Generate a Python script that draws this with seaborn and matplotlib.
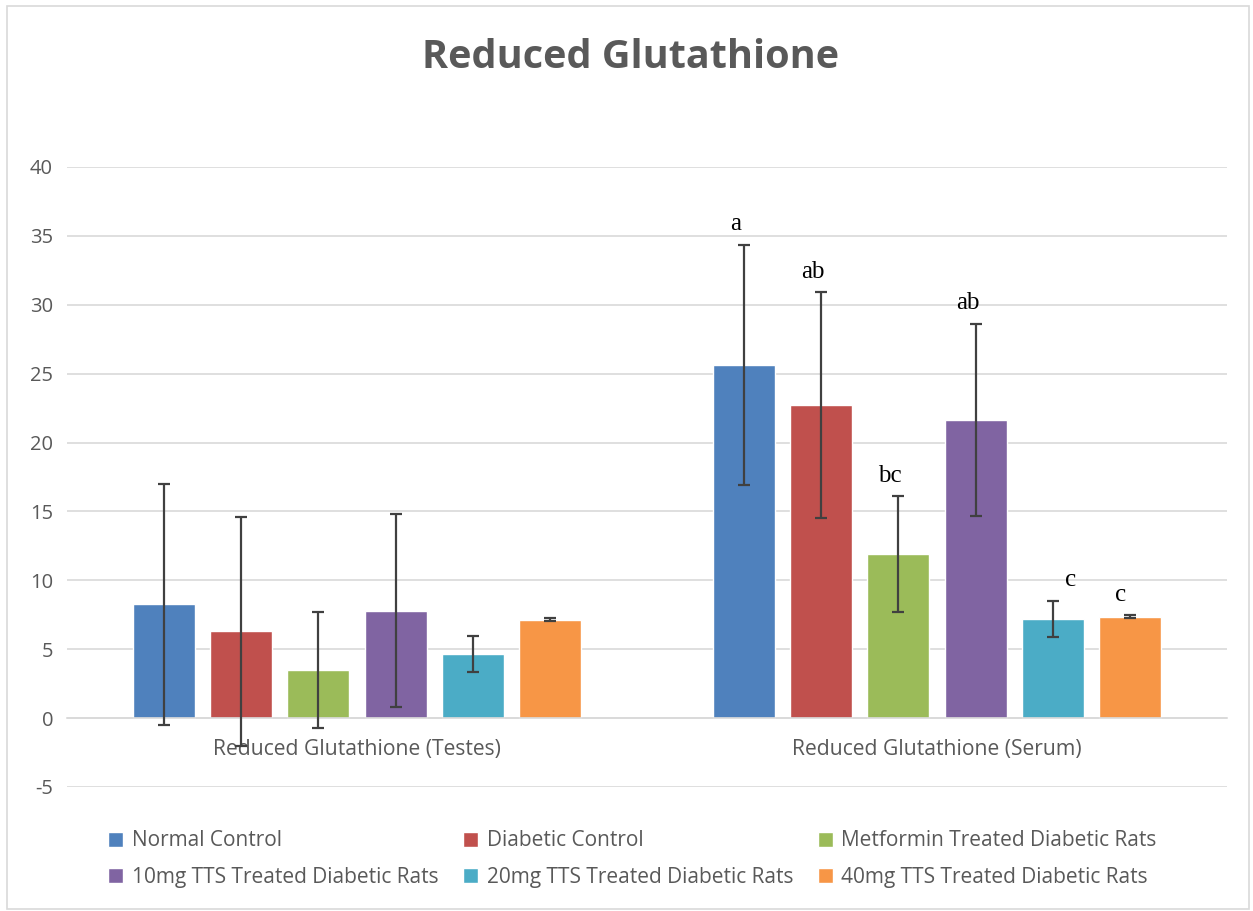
import seaborn as sns
import matplotlib.pyplot as plt
import pandas as pd

# values
groups = ["Reduced Glutathione (Testes)", "Reduced Glutathione (Serum)"]
series = ["Normal Control", "Diabetic Control", "Metformin Treated Diabetic Rats",
          "10mg TTS Treated Diabetic Rats", "20mg TTS Treated Diabetic Rats",
          "40mg TTS Treated Diabetic Rats"]
testes_mean = [8.25, 6.3, 3.5, 7.8, 4.65, 7.15]
testes_err = [8.75, 8.3, 4.2, 7.0, 1.3, 0.1]
serum_mean = [25.65, 22.7, 11.9, 21.65, 7.2, 7.35]
serum_err = [8.7, 8.2, 4.2, 6.95, 1.3, 0.1]
serum_letters = ["a", "ab", "bc", "ab", "c", "c"]
letter_dx = [-8, -8, -8, -8, 18, -10]

colors = ["#4F81BD", "#C0504D", "#9BBB59", "#8064A2", "#4BACC6", "#F79646"]
grey = "#595959"

df = pd.DataFrame({
    "group": [groups[0]] * 6 + [groups[1]] * 6,
    "series": series * 2,
    "value": testes_mean + serum_mean,
    "err": testes_err + serum_err,
})

sns.set_theme(style="white")
plt.rcParams["font.family"] = ["Open Sans", "DejaVu Sans"]
plt.rcParams["axes.unicode_minus"] = False

fig = plt.figure(figsize=(12.53, 9.11), dpi=100)
ax = fig.add_axes([67 / 1253, 124 / 911, 1160 / 1253, 620 / 911])

sns.barplot(data=df, x="group", y="value", hue="series", order=groups,
            hue_order=series, palette=colors, width=0.8, gap=0.2,
            errorbar=None, saturation=1, ax=ax, zorder=2)

# error bars and letters on top of the seaborn bars
bar_conts = list(ax.containers)
for i, cont in enumerate(bar_conts):
    for j, bar in enumerate(cont):
        cx = bar.get_x() + bar.get_width() / 2
        m = [testes_mean, serum_mean][j][i]
        e = [testes_err, serum_err][j][i]
        ax.errorbar(cx, m, yerr=e, color="#404040", elinewidth=1.6,
                    capsize=4.5, capthick=1.6, zorder=3)
        if j == 1:
            ax.annotate(serum_letters[i], (cx, m + e), xytext=(letter_dx[i] * 0.72, 7),
                        textcoords="offset points", ha="center", va="bottom",
                        fontsize=18, family="Liberation Serif", color="black")

ax.set_ylim(-5, 40)
ax.set_yticks(range(-5, 41, 5))
ax.set_xlim(-0.5, 1.5)
ax.grid(axis="y", color="#D9D9D9", linewidth=1.2, zorder=0)
ax.set_axisbelow(True)
for s in ["top", "right", "left"]:
    ax.spines[s].set_visible(False)
ax.spines["bottom"].set_position(("data", 0))
ax.spines["bottom"].set_color("#D9D9D9")
ax.spines["bottom"].set_linewidth(1.2)
ax.tick_params(axis="y", length=0, labelcolor=grey, labelsize=14.5, pad=10)
ax.tick_params(axis="x", length=0, labelcolor=grey, labelsize=15.2, pad=15)
ax.set_xlabel("")
ax.set_ylabel("")

fig.text(0.503, 0.937, "Reduced Glutathione", ha="center", va="center",
         fontsize=28.5, fontweight="bold", color=grey)

# legend filled row by row like the original
h, l = ax.get_legend_handles_labels()
order = [0, 3, 1, 4, 2, 5]
ax.get_legend().remove()
leg = fig.legend([h[k] for k in order], [l[k] for k in order],
                 loc="upper left", bbox_to_anchor=(0.0714, 0.109), ncol=3,
                 frameon=False, fontsize=15, handlelength=0.72, handleheight=0.72,
                 handletextpad=0.4, columnspacing=1.2, labelspacing=0.75)
for t in leg.get_texts():
    t.set_color(grey)

fig.patches.append(plt.Rectangle((7 / 1253, 2 / 911), 1242 / 1253, 903 / 911,
                                 transform=fig.transFigure, fill=False,
                                 edgecolor="#D9D9D9", linewidth=1.2))

fig.savefig("out.png", dpi=100)
